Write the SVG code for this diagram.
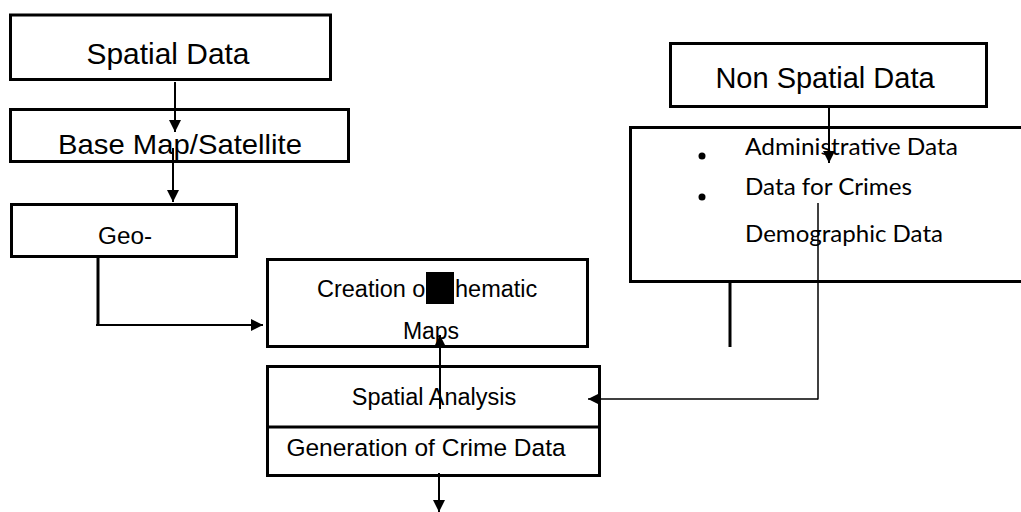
<svg xmlns="http://www.w3.org/2000/svg" width="1021" height="512" viewBox="0 0 1021 512">
  <style>
    .box { fill: #fff; stroke: #000; stroke-width: 3; }
    .t { font-family: "Liberation Sans", Arial, sans-serif; fill: #000; text-anchor: middle; }
    .c { font-family: Lato, "Open Sans", sans-serif; fill: #000; }
    .line { fill: none; stroke: #000; stroke-width: 2; }
    .thick { fill: none; stroke: #000; stroke-width: 3; }
    .thin { fill: none; stroke: #000; stroke-width: 1.5; }
  </style>
  <defs>
    <marker id="arrowL" viewBox="0 0 10 10" refX="10" refY="5" markerWidth="12" markerHeight="12" markerUnits="userSpaceOnUse" orient="auto">
      <path d="M0,0 L10,5 L0,10 Z" fill="#000"/>
    </marker>
  </defs>
  <rect width="1021" height="512" fill="#fff"/>

  <g id="spatial-data">
    <rect class="box" x="10.5" y="15" width="320" height="64.5"/>
    <text class="t" x="168" y="64" font-size="29" textLength="163" lengthAdjust="spacingAndGlyphs">Spatial Data</text>
  </g>

  <g id="base-map">
    <rect class="box" x="10.5" y="109.5" width="338" height="52"/>
    <text class="t" x="180" y="154" font-size="28.5" textLength="244" lengthAdjust="spacingAndGlyphs">Base Map/Satellite</text>
  </g>

  <g id="geo">
    <rect class="box" x="11.5" y="204.5" width="225" height="52"/>
    <text class="t" x="125" y="244" font-size="23" textLength="54" lengthAdjust="spacingAndGlyphs">Geo-</text>
  </g>

  <g id="thematic-maps">
    <rect class="box" x="267.5" y="259.5" width="320" height="87"/>
    <text class="t" x="317" y="297" font-size="23.5" style="text-anchor:start">Creation o</text>
    <rect x="426" y="272" width="28" height="32" fill="#000"/>
    <text class="t" x="455" y="297" font-size="23.5" style="text-anchor:start">hematic</text>
    <text class="t" x="431" y="339" font-size="23">Maps</text>
  </g>

  <g id="spatial-analysis">
    <rect class="box" x="267.5" y="366.5" width="332" height="109"/>
    <line class="thick" x1="267.5" y1="427" x2="599.5" y2="427"/>
    <text class="t" x="434" y="405" font-size="23.5">Spatial Analysis</text>
    <text class="t" x="426" y="456" font-size="24.5">Generation of Crime Data</text>
  </g>

  <g id="non-spatial-data">
    <rect class="box" x="670.5" y="43.5" width="316" height="63"/>
    <text class="t" x="825" y="88" font-size="29">Non Spatial Data</text>
  </g>

  <g id="non-spatial-items">
    <rect class="box" x="630.5" y="127.5" width="400" height="154"/>
    <circle cx="702" cy="156" r="3.5" fill="#000"/>
    <circle cx="702" cy="197" r="3.5" fill="#000"/>
    <text class="c" x="745" y="155" font-size="23" textLength="213" lengthAdjust="spacingAndGlyphs">Administrative Data</text>
    <text class="c" x="745" y="195" font-size="23" textLength="167" lengthAdjust="spacingAndGlyphs">Data for Crimes</text>
    <text class="c" x="745" y="242" font-size="23" textLength="198" lengthAdjust="spacingAndGlyphs">Demographic Data</text>
  </g>

  <g id="connectors">
    <line class="line" x1="175" y1="82" x2="175" y2="132" marker-end="url(#arrowL)"/>
    <line class="line" x1="173" y1="148" x2="173" y2="202" marker-end="url(#arrowL)"/>
    <polyline class="thick" points="98,258 98,325"/>
    <line class="line" x1="96" y1="325" x2="263" y2="325" marker-end="url(#arrowL)"/>
    <line class="line" x1="440" y1="409" x2="440" y2="335" marker-end="url(#arrowL)"/>
    <line class="line" x1="439" y1="473" x2="439" y2="512" marker-end="url(#arrowL)"/>
    <line class="line" x1="829" y1="108" x2="829" y2="163" marker-end="url(#arrowL)"/>
    <line class="thin" x1="818" y1="203" x2="818" y2="399.5"/>
    <line class="thin" x1="818" y1="399" x2="588" y2="399" marker-end="url(#arrowL)"/>
    <line class="thick" x1="730" y1="283" x2="730" y2="347"/>
  </g>
</svg>
